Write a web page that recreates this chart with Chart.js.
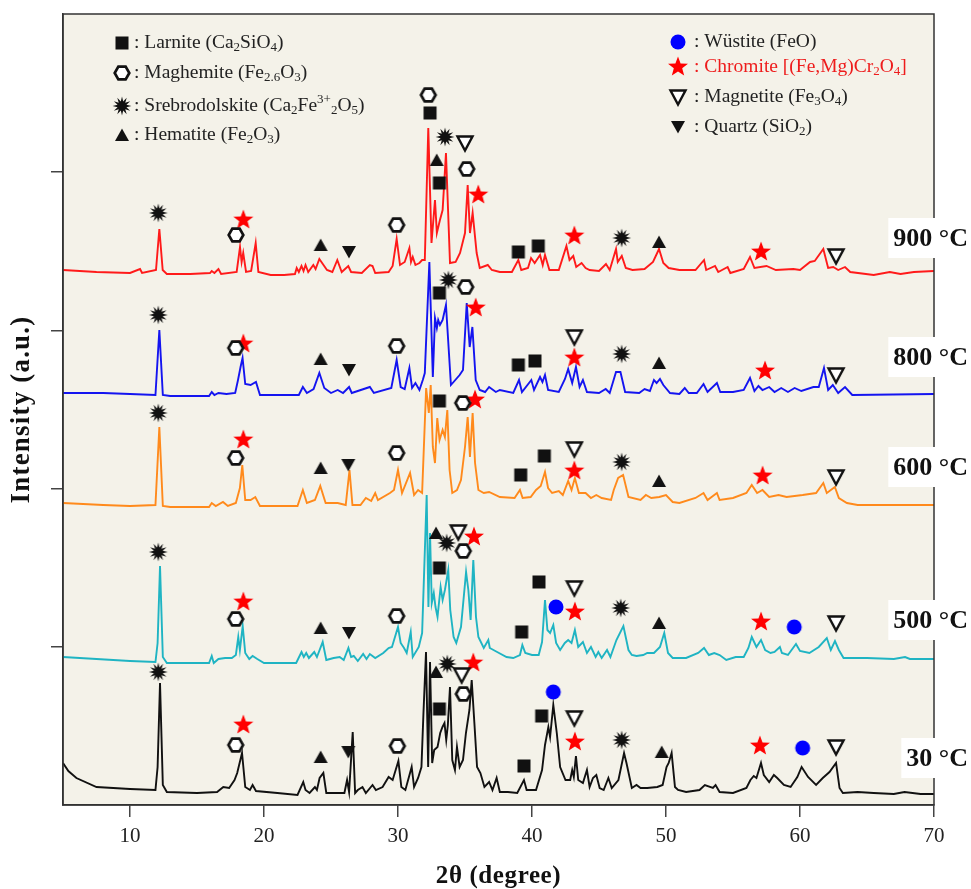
<!DOCTYPE html>
<html>
<head>
<meta charset="utf-8">
<script src="https://cdn.jsdelivr.net/npm/chart.js@4.4.1/dist/chart.umd.min.js"></script>
<style>
  html, body { margin: 0; padding: 0; background: #fff; }
</style>
</head>
<body>
<canvas id="xrd" width="971" height="889"></canvas>
<script>
// tick positions (2theta) and unlabelled intensity ticks
const xTicks = [10, 20, 30, 40, 50, 60, 70];
const yTicks = [158.2, 316.4, 474.6, 632.8];
const tempNames = ['900 °C', '800 °C', '600 °C', '500 °C', '30 °C'];

// patterns, [2theta, intensity a.u.] (already stacked)
const s900 = [[5,535],[7.5,533],[10,532],[10.75,536],[10.9,532],[11.94,535],[12.19,576],[12.44,535],[12.75,531],[14.5,531],[15.97,532],[16.1,534],[16.3,532],[16.6,536],[16.8,531],[17.96,533],[18.21,558],[18.33,543],[18.45,552],[18.66,533],[19.04,534],[19.38,562],[19.58,533],[20.5,530],[21.5,530],[22.31,531],[22.44,537],[22.6,533],[22.8,539],[22.95,534],[23.1,540],[23.3,533],[23.68,540],[23.85,536],[24.13,546],[24.7,535],[25.1,533],[25.47,545],[25.8,533],[26.29,539],[26.5,533],[27.3,532],[27.9,540],[28.1,539],[28.3,532],[29.3,533],[29.6,539],[29.9,566],[30.15,540],[30.5,543],[30.85,557],[30.97,543],[31.1,548],[31.3,540],[31.6,542],[31.8,545],[32.0,545],[32.26,677],[32.5,562],[32.76,605],[32.9,572],[33.13,585],[33.33,595],[33.58,652],[33.88,542],[34.3,543],[34.63,552],[35.0,572],[35.2,620],[35.37,572],[35.57,592],[35.87,552],[36.1,537],[36.7,540],[37.0,535],[37.6,533],[38.5,533],[38.98,545],[39.2,535],[39.7,537],[39.93,547],[40.2,542],[40.6,550],[40.8,540],[40.97,550],[41.3,535],[42.0,535],[42.57,559],[42.8,545],[43.08,549],[43.3,538],[43.7,542],[44.0,537],[44.3,535],[45.0,534],[45.52,541],[45.8,535],[46.27,556],[46.4,543],[46.7,549],[47.0,537],[47.5,535],[48.4,536],[49.03,543],[49.48,556],[49.8,542],[50.2,537],[51.0,535],[52.2,535],[52.84,545],[53.0,535],[53.66,539],[53.9,533],[54.6,538],[54.8,532],[55.8,536],[56.27,548],[56.6,537],[57.5,539],[58.2,535],[59.5,536],[60.0,535],[60.75,543],[61.1,544],[61.74,556],[62.1,537],[62.48,538],[62.85,535],[63.36,538],[63.75,533],[65.5,530],[66.7,533],[67.5,531],[68.5,533],[70,534]];

const s800 = [[5,412],[8,412],[10,411],[11.9,410],[12.19,475],[12.45,410],[13,409],[15.9,409],[16.1,413],[16.3,410],[16.6,412],[17.2,411],[17.85,412],[18.06,425],[18.25,438],[18.4,447],[18.6,421],[19.0,420],[19.4,423],[19.7,410],[22.6,410],[22.9,418],[23.2,412],[23.7,416],[24.13,432],[24.5,417],[25.0,412],[25.5,415],[25.9,412],[26.35,418],[26.55,412],[27.9,418],[28.2,412],[29.5,417],[29.9,445],[30.2,418],[30.5,416],[30.85,437],[31.05,417],[31.3,422],[31.6,415],[31.85,425],[32.0,432],[32.34,543],[32.6,428],[32.76,487],[32.9,477],[33.0,485],[33.13,480],[33.33,485],[33.58,500],[33.95,420],[34.6,430],[34.85,435],[35.13,502],[35.35,458],[35.55,478],[35.8,425],[36.1,415],[36.5,413],[36.8,418],[37.3,413],[37.6,415],[38.6,412],[39.03,425],[39.25,413],[39.95,425],[40.15,415],[40.6,428],[40.78,423],[40.97,430],[41.2,415],[42.0,413],[42.46,426],[42.7,436],[43.0,422],[43.28,438],[43.55,418],[43.8,425],[44.1,413],[45.0,412],[45.5,416],[45.8,412],[46.27,433],[46.6,433],[46.95,413],[48.0,412],[48.4,416],[48.8,414],[49.1,425],[49.3,422],[49.55,426],[49.8,420],[50.3,412],[51.0,411],[51.4,417],[51.7,412],[52.3,412],[52.8,421],[53.1,413],[53.8,422],[54.05,413],[55.0,413],[55.8,415],[56.27,427],[56.6,414],[56.9,419],[57.2,415],[57.7,418],[58.1,413],[58.6,417],[59.1,413],[59.6,417],[60.1,414],[61.0,418],[61.4,418],[61.79,437],[62.1,415],[62.45,420],[62.85,412],[63.36,418],[63.9,410],[70,411]];

const s600 = [[5,302],[8,300],[10,299],[11.9,300],[12.19,378],[12.45,299],[13,298],[15.9,298],[16.1,302],[16.4,299],[16.94,303],[17.3,299],[17.9,302],[18.2,317],[18.38,340],[18.6,305],[19.0,305],[19.35,308],[19.7,299],[22.5,299],[22.9,315],[23.2,302],[23.8,305],[24.2,319],[24.6,302],[25.5,302],[26.1,300],[26.38,335],[26.6,300],[27.2,300],[27.6,307],[28.0,304],[28.3,312],[28.5,305],[29.4,312],[29.7,315],[30.0,335],[30.3,312],[30.9,332],[31.2,310],[31.5,315],[31.8,312],[32.1,417],[32.3,392],[32.44,420],[32.6,358],[32.76,342],[32.93,387],[33.1,365],[33.33,375],[33.5,368],[33.68,395],[33.85,335],[34.05,312],[34.4,315],[34.7,325],[35.0,358],[35.2,388],[35.37,348],[35.57,392],[35.75,342],[36.0,315],[36.4,312],[36.8,313],[37.6,308],[38.7,307],[39.1,315],[39.3,307],[39.9,308],[40.3,315],[40.65,319],[40.97,333],[41.2,317],[41.5,312],[42.0,314],[42.3,310],[42.7,324],[42.95,315],[43.2,327],[43.5,312],[44.0,312],[44.4,307],[44.8,310],[45.2,307],[45.9,305],[46.1,315],[46.43,327],[46.8,330],[47.2,308],[48.1,305],[48.5,310],[48.9,307],[49.5,308],[50.0,310],[50.5,303],[51.0,302],[52.2,307],[52.8,312],[53.1,305],[53.8,312],[54.0,305],[55.0,307],[56.0,312],[56.4,320],[56.8,312],[57.2,315],[57.7,308],[58.4,310],[59.0,308],[60.2,310],[61.2,312],[61.74,322],[62.0,312],[62.6,318],[62.9,307],[63.5,302],[64.3,300],[70,300]];

const s500 = [[5,148],[7.5,146],[10,144],[11.9,143],[12.06,162],[12.24,239],[12.45,148],[12.75,142],[15.9,142],[16.1,149],[16.25,142],[16.6,146],[17.1,147],[17.6,147],[17.9,150],[18.08,168],[18.2,155],[18.41,179],[18.6,152],[18.9,146],[19.15,149],[19.5,146],[20,142],[22.4,142],[22.8,153],[22.97,148],[23.15,152],[23.35,147],[23.75,153],[23.95,148],[24.38,163],[24.65,145],[25.2,147],[25.65,148],[25.95,145],[26.3,157],[26.5,148],[26.7,149],[27,144],[27.4,151],[27.65,146],[27.9,151],[28.3,147],[28.9,152],[29.3,157],[29.55,158],[30,178],[30.2,162],[30.45,157],[30.65,152],[30.95,173],[31.1,148],[31.55,158],[31.8,172],[32.14,310],[32.27,198],[32.39,272],[32.52,202],[32.67,212],[32.8,198],[32.95,188],[33.18,218],[33.33,205],[33.5,215],[33.75,235],[33.9,195],[34.15,168],[34.35,162],[34.7,178],[35.08,233],[35.25,215],[35.42,185],[35.62,245],[35.82,188],[36,168],[36.4,157],[36.74,165],[36.85,157],[37.4,153],[38.1,148],[38.6,147],[39.1,150],[39.28,160],[39.5,152],[40,150],[40.5,150],[40.75,163],[40.97,205],[41.15,175],[41.35,172],[41.59,180],[41.8,162],[42.1,155],[42.45,162],[42.7,165],[42.95,162],[43.2,175],[43.45,158],[43.8,163],[44.1,152],[44.4,158],[44.75,148],[44.95,153],[45.2,147],[45.6,155],[45.85,148],[46.3,165],[46.82,179],[47.2,155],[47.45,150],[47.8,149],[48.3,150],[48.6,152],[49.1,152],[49.55,158],[49.87,172],[50.15,152],[50.5,147],[51.5,147],[52.4,152],[52.84,157],[53.2,150],[53.6,152],[54,150],[54.5,145],[55.2,148],[55.8,148],[56.15,157],[56.4,168],[56.75,158],[57.09,165],[57.4,155],[57.8,152],[58.1,153],[58.5,158],[58.65,152],[59.1,150],[59.7,161],[60,154],[60.7,152],[61.4,158],[62,167],[62.3,155],[62.61,164],[62.9,155],[63.25,147],[65,147],[67,146],[67.84,148],[68.2,146],[70,146]];

const s30 = [[5,42],[5.4,34],[6,27],[7.5,18],[10,16],[11.9,15],[12.06,38],[12.24,122],[12.45,20],[12.75,13],[15,12],[16.5,13],[16.96,18],[17.4,17],[17.8,25],[18.0,32],[18.36,52],[18.6,18],[18.95,15],[19.15,20],[19.4,14],[21,12],[22.5,10],[22.93,23],[23.1,15],[23.4,12],[23.8,18],[23.95,15],[24.15,27],[24.43,32],[24.65,12],[26,12],[26.2,25],[26.35,13],[26.62,73],[26.8,12],[27,15],[27.35,18],[27.6,12],[28.1,20],[28.35,15],[28.85,18],[29.3,28],[29.6,25],[30.03,44],[30.25,18],[30.55,15],[31.02,38],[31.2,18],[31.5,27],[31.75,38],[31.9,92],[32.09,153],[32.25,38],[32.39,143],[32.55,42],[32.7,55],[32.95,58],[33.15,72],[33.32,78],[33.47,82],[33.6,65],[33.72,80],[33.88,118],[34.05,45],[34.25,35],[34.4,58],[34.6,38],[34.85,45],[35.07,72],[35.33,95],[35.5,125],[35.7,82],[35.9,38],[36.15,32],[36.45,18],[36.8,23],[37.05,15],[37.36,27],[37.6,13],[38.2,13],[38.9,12],[39.4,25],[39.6,15],[40.3,15],[40.75,35],[40.97,60],[41.22,78],[41.35,68],[41.59,100],[41.85,72],[42.1,38],[42.5,25],[42.85,25],[43.0,35],[43.12,28],[43.28,49],[43.45,25],[43.8,22],[44.1,35],[44.3,18],[44.55,27],[44.8,30],[45.05,17],[45.35,15],[45.7,27],[45.95,17],[46.45,25],[46.87,52],[47.05,42],[47.45,17],[47.8,20],[48.1,17],[48.6,17],[49.35,18],[49.75,20],[50.04,38],[50.2,42],[50.42,52],[50.67,18],[50.9,15],[51.5,13],[52.5,15],[52.9,20],[53.5,17],[53.7,20],[54,13],[55,12],[56,17],[56.3,25],[56.55,29],[56.75,27],[57.09,42],[57.3,30],[57.7,23],[58.05,30],[58.3,27],[58.8,20],[59.3,18],[59.8,28],[60.12,38],[60.6,28],[61.2,20],[61.7,27],[62.2,33],[62.69,42],[62.95,17],[63.2,12],[64.3,13],[65.5,12],[67,11],[67.8,13],[69,11],[70,11]];

// phase markers, [2theta, intensity]
const larnite = [[32.39,692],[33.09,622],[38.98,553],[40.47,559],[33.09,512],[38.98,440],[40.22,444],[33.09,404],[39.16,330],[40.92,349],[33.09,237],[39.23,173],[40.52,223],[33.09,96],[39.4,39],[40.72,89]];
const maghemite = [[17.91,570],[29.9,580],[32.26,710],[35.13,636],[17.89,457],[29.9,459],[35.05,518],[17.89,347],[29.9,352],[34.83,402],[17.89,186],[29.9,189],[34.87,254],[17.89,60],[29.95,59],[34.87,111]];
const srebrodolskite = [[12.11,592],[33.51,668],[46.69,567],[12.11,490],[33.76,525],[46.69,451],[12.11,392],[46.69,343],[12.11,253],[33.63,262],[46.62,197],[12.11,133],[33.68,141],[46.69,65]];
const hematite = [[24.23,560],[32.89,645],[49.48,563],[24.23,446],[49.48,442],[24.23,337],[49.48,324],[24.23,177],[32.84,272],[49.48,182],[24.23,48],[32.84,133],[49.68,53]];
const quartz = [[26.34,553],[26.34,435],[26.29,340],[26.34,172],[26.29,53]];
const magnetite = [[35.0,662],[62.69,549],[43.16,468],[62.69,430],[43.16,356],[62.69,328],[34.5,273],[43.16,217],[62.69,182],[34.75,130],[43.16,87],[62.69,58]];
const chromite = [[18.46,585],[35.99,610],[43.16,569],[57.09,553],[18.46,461],[35.8,497],[43.16,447],[57.39,434],[18.46,365],[35.75,405],[43.16,334],[57.21,329],[18.46,203],[35.67,268],[43.2,193],[57.09,183],[18.46,80],[35.62,142],[43.2,63],[57.01,59]];
const wustite = [[41.79,198],[59.57,178],[41.59,113],[60.2,57]];

const serif = '"Liberation Serif", "Times New Roman", serif';

// marker glyphs drawn on small canvases
function makeMarker(size, paint) {
  let c = document.createElement('canvas');
  c.width = size; c.height = size;
  let g = c.getContext('2d');
  g.translate(size / 2, size / 2);
  paint(g);
  return c;
}
function poly(g, pts) {
  g.beginPath();
  pts.forEach((p, i) => i ? g.lineTo(p[0], p[1]) : g.moveTo(p[0], p[1]));
  g.closePath();
}
function starPts(n, ro, ri) {
  let pts = [];
  for (let i = 0; i < n * 2; i++) {
    let r = i % 2 ? ri : ro;
    let a = -Math.PI / 2 + i * Math.PI / n;
    pts.push([r * Math.cos(a), r * Math.sin(a)]);
  }
  return pts;
}

let mSquare = makeMarker(16, g => { g.fillStyle = '#111'; g.fillRect(-6.5, -6.5, 13, 13); });
let mHex = makeMarker(20, g => {
  let pts = [];
  for (let i = 0; i < 6; i++) pts.push([7.3 * Math.cos(i * Math.PI / 3), 7.3 * Math.sin(i * Math.PI / 3)]);
  poly(g, pts); g.fillStyle = '#fff'; g.fill();
  g.lineWidth = 2.7; g.strokeStyle = '#111'; g.stroke();
});
let mSun = makeMarker(22, g => { poly(g, starPts(12, 9.4, 4.6)); g.fillStyle = '#111'; g.fill(); });
let mTriUp = makeMarker(16, g => { poly(g, [[0, -6.5], [7, 6], [-7, 6]]); g.fillStyle = '#111'; g.fill(); });
let mTriDown = makeMarker(16, g => { poly(g, [[-7, -6], [7, -6], [0, 6.5]]); g.fillStyle = '#111'; g.fill(); });
let mTriOpen = makeMarker(20, g => {
  poly(g, [[-7.5, -6.5], [7.5, -6.5], [0, 7.5]]); g.fillStyle = '#fff'; g.fill();
  g.lineWidth = 2.4; g.strokeStyle = '#111'; g.stroke();
});
let mStar = makeMarker(24, g => { poly(g, starPts(5, 10.5, 4.4)); g.fillStyle = '#ff0000'; g.fill(); });
let mCircle = makeMarker(18, g => { g.beginPath(); g.arc(0, 0, 7.5, 0, Math.PI * 2); g.fillStyle = '#0000ff'; g.fill(); });

const pts = a => a.map(p => ({x: p[0], y: p[1]}));

function curve(data, color) {
  return {data: pts(data), borderColor: color, borderWidth: 1.9, pointRadius: 0, fill: false, tension: 0, order: 2};
}
function marks(data, style) {
  return {data: pts(data), showLine: false, pointStyle: style, pointRadius: 6, order: 1};
}

// legend rows: [marker, parts, colour]   parts: [text, 0 normal / 1 sub / 2 sup]
const legendLeft = [
  [mSquare, [[': Larnite (Ca', 0], ['2', 1], ['SiO', 0], ['4', 1], [')', 0]], '#222'],
  [mHex, [[': Maghemite (Fe', 0], ['2.6', 1], ['O', 0], ['3', 1], [')', 0]], '#222'],
  [mSun, [[': Srebrodolskite (Ca', 0], ['2', 1], ['Fe', 0], ['3+', 2], ['2', 1], ['O', 0], ['5', 1], [')', 0]], '#222'],
  [mTriUp, [[': Hematite (Fe', 0], ['2', 1], ['O', 0], ['3', 1], [')', 0]], '#222']
];
const legendRight = [
  [mCircle, [[': Wüstite (FeO)', 0]], '#222'],
  [mStar, [[': Chromite [(Fe,Mg)Cr', 0], ['2', 1], ['O', 0], ['4', 1], [']', 0]], '#ee1c1c'],
  [mTriOpen, [[': Magnetite (Fe', 0], ['3', 1], ['O', 0], ['4', 1], [')', 0]], '#222'],
  [mTriDown, [[': Quartz (SiO', 0], ['2', 1], [')', 0]], '#222']
];

function richText(ctx, x, y, parts, color) {
  ctx.fillStyle = color;
  ctx.textBaseline = 'middle';
  ctx.textAlign = 'left';
  parts.forEach(([t, m]) => {
    ctx.font = (m ? '13px ' : '19.5px ') + serif;
    let dy = m === 1 ? 5 : (m === 2 ? -6 : 0);
    ctx.fillText(t, x, y + dy);
    x += ctx.measureText(t).width;
  });
}

let decor = {
  id: 'decor',
  beforeDraw(chart) {
    let ctx = chart.ctx, a = chart.chartArea;
    ctx.save();
    ctx.fillStyle = '#fff';
    ctx.fillRect(0, 0, chart.width, chart.height);
    ctx.fillStyle = '#f4f2e9';
    ctx.fillRect(a.left, a.top, a.right - a.left, a.bottom - a.top);
    ctx.restore();
  },
  afterDraw(chart) {
    let ctx = chart.ctx, a = chart.chartArea;
    ctx.save();
    ctx.strokeStyle = '#333';
    ctx.lineWidth = 1.5;
    ctx.strokeRect(a.left, a.top, a.right - a.left, a.bottom - a.top);

    // axis titles
    ctx.fillStyle = '#111';
    ctx.textAlign = 'center';
    ctx.textBaseline = 'middle';
    ctx.font = 'bold 25px ' + serif;
    ctx.letterSpacing = '0.6px';
    ctx.fillText('2θ (degree)', (a.left + a.right) / 2, 877);
    ctx.save();
    ctx.translate(22, (a.top + a.bottom) / 2);
    ctx.rotate(-Math.PI / 2);
    ctx.font = 'bold 27px ' + serif;
    ctx.letterSpacing = '1.2px';
    ctx.fillText('Intensity (a.u.)', 0, 0);
    ctx.restore();
    ctx.letterSpacing = '0px';

    // temperature labels on white boxes at the right edge
    let labelY = [238, 357, 467, 620, 758];
    ctx.font = 'bold 26px ' + serif;
    ctx.textAlign = 'right';
    ctx.textBaseline = 'middle';
    tempNames.forEach((t, i) => {
      let w = ctx.measureText(t).width;
      ctx.fillStyle = '#fff';
      ctx.fillRect(968 - w - 5, labelY[i] - 20, w + 12, 40);
      ctx.fillStyle = '#111';
      ctx.fillText(t, 968, labelY[i] + 1);
    });

    // phase legend
    let rowsL = [43, 73, 106, 135], rowsR = [42, 67, 97, 127];
    legendLeft.forEach((r, i) => {
      ctx.drawImage(r[0], 122 - r[0].width / 2, rowsL[i] - r[0].height / 2);
      richText(ctx, 134, rowsL[i], r[1], r[2]);
    });
    legendRight.forEach((r, i) => {
      ctx.drawImage(r[0], 678 - r[0].width / 2, rowsR[i] - r[0].height / 2);
      richText(ctx, 694, rowsR[i], r[1], r[2]);
    });
    ctx.restore();
  }
};

let axisGrid = {drawOnChartArea: false, drawTicks: true, tickLength: 12, color: '#444', lineWidth: 1.5};
let axisBorder = {display: true, color: '#333', width: 1.5};

new Chart(document.getElementById('xrd'), {
  type: 'line',
  data: {
    datasets: [
      curve(s900, '#ff1a1a'),
      curve(s800, '#1414f0'),
      curve(s600, '#ff8a1c'),
      curve(s500, '#1fb4c3'),
      curve(s30, '#111111'),
      marks(larnite, mSquare),
      marks(maghemite, mHex),
      marks(srebrodolskite, mSun),
      marks(hematite, mTriUp),
      marks(quartz, mTriDown),
      marks(magnetite, mTriOpen),
      marks(chromite, mStar),
      marks(wustite, mCircle)
    ]
  },
  options: {
    responsive: false,
    devicePixelRatio: 1,
    animation: false,
    events: [],
    layout: {padding: {top: 14, right: 37, left: 0, bottom: 0}},
    plugins: {legend: {display: false}, tooltip: {enabled: false}},
    scales: {
      x: {
        type: 'linear', min: 5, max: 70,
        afterBuildTicks: s => { s.ticks = xTicks.map(v => ({value: v})); },
        afterFit: s => { s.height = 84; },
        grid: axisGrid,
        border: axisBorder,
        ticks: {font: {family: serif, size: 21}, color: '#222', padding: 7, maxRotation: 0, autoSkip: false},
        title: {display: false}
      },
      y: {
        min: 0, max: 791,
        afterBuildTicks: s => { s.ticks = yTicks.map(v => ({value: v})); },
        afterFit: s => { s.width = 63; },
        grid: axisGrid,
        border: axisBorder,
        ticks: {display: false},
        title: {display: false}
      }
    }
  },
  plugins: [decor]
});
</script>
</body>
</html>
